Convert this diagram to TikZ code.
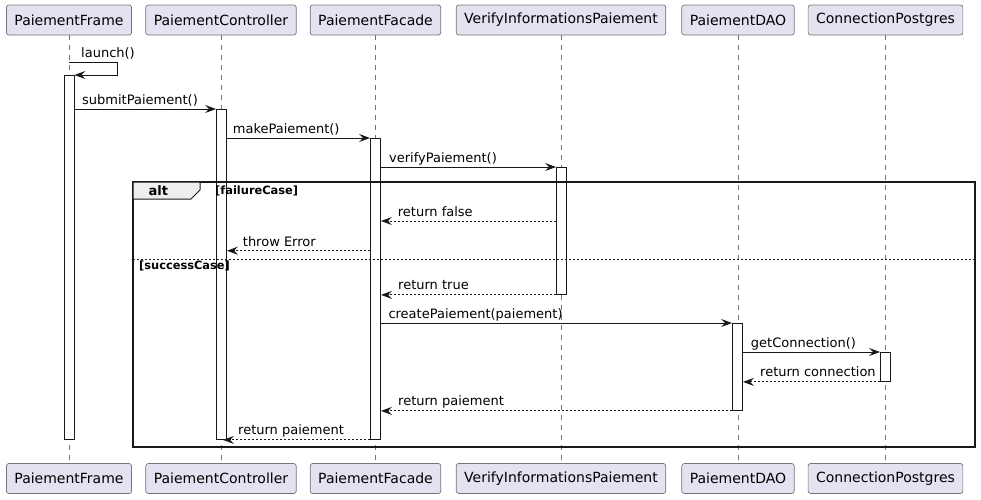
\documentclass[tikz,border=0pt]{standalone}
\usepackage{fontspec}
\setmainfont{DejaVu Sans}
\usepackage{xcolor}
\usepackage{tikz}
\usetikzlibrary{arrows.meta,positioning,calc}
\definecolor{partfill}{HTML}{E2E2F0}
\definecolor{umlline}{HTML}{181818}
\definecolor{tabfill}{HTML}{EEEEEE}

\begin{document}
\begin{tikzpicture}[x=1pt, y=-1pt,
  part/.style={draw=umlline!60, line width=0.7pt, fill=partfill, rounded corners=2.5pt, minimum height=30pt, inner xsep=8pt, font=\fontsize{14}{16}\selectfont},
  life/.style={draw=umlline!60, line width=0.7pt, dash pattern=on 5pt off 5pt},
  act/.style={draw=umlline, fill=white, line width=0.9pt, minimum width=10pt, inner sep=0pt, anchor=north},
  msg/.style={anchor=base west, inner sep=0pt, font=\fontsize{13}{15}\selectfont},
  call/.style={draw=umlline, line width=0.9pt, -{Stealth[length=11pt,width=8pt,inset=4pt]}},
  ret/.style={call, dash pattern=on 2pt off 2pt},
  guard/.style={anchor=west, inner sep=0pt, font=\fontsize{11.4}{13}\selectfont\bfseries}]
\useasboundingbox (0,0) rectangle (981,499);

%participants
\node[part] (pf) at (69,20) {PaiementFrame};
\node[part] (pc) at (221,20) {PaiementController};
\node[part] (pfa) at (375.5,20) {PaiementFacade};
\node[part] (pv) at (561,20) {VerifyInformationsPaiement};
\node[part] (pd) at (738,20) {PaiementDAO};
\node[part] (pg) at (885.5,20) {ConnectionPostgres};

\node[part] (pfB) at (69,478.5) {PaiementFrame};
\node[part] (pcB) at (221,478.5) {PaiementController};
\node[part] (pfaB) at (375.5,478.5) {PaiementFacade};
\node[part] (pvB) at (561,478.5) {VerifyInformationsPaiement};
\node[part] (pdB) at (738,478.5) {PaiementDAO};
\node[part] (pgB) at (885.5,478.5) {ConnectionPostgres};

%lifelines
\draw[life] (pf.south) -- (pfB.north);
\draw[life] (pc.south) -- (pcB.north);
\draw[life] (pfa.south) -- (pfaB.north);
\draw[life] (pv.south) -- (pvB.north);
\draw[life] (pd.south) -- (pdB.north);
\draw[life] (pg.south) -- (pgB.north);

%activations
\node[act, minimum height=364pt] (aPf) at (69,75) {};
\node[act, minimum height=330pt] (aCtrl) at (221.5,109) {};
\node[act, minimum height=301pt] (aFac) at (375.5,138) {};
\node[act, minimum height=127pt] (aVer) at (561.5,167) {};
\node[act, minimum height=87pt] (aDao) at (737.5,323) {};
\node[act, minimum height=29pt] (aPg) at (885.5,352) {};

%alt frame
\draw[umlline, line width=1.5pt] (133,182) rectangle (975,447);
\filldraw[fill=tabfill, draw=umlline, line width=1pt] (133,182) -- (200,182) -- (200,190) -- (191,199) -- (133,199) -- cycle;
\node[guard, font=\fontsize{13}{15}\selectfont\bfseries] (altLbl) at (148.5,190.5) {alt};
\node[guard] (gFail) at (215,190.5) {[failureCase]};
\draw[umlline, line width=0.8pt, dash pattern=on 2pt off 2pt] (133,259.3) -- (975,259.3);
\node[guard] (gOk) at (139,266) {[successCase]};

%rows
\coordinate (rLaunch) at (69,62);
\coordinate (rFalse) at (0,221);
\coordinate (rThrow) at (0,250.7);

%messages
\draw[call] (rLaunch) -- (117,62) -- (117,75) -- (aPf.north east);
\draw[call] (aPf.east |- aCtrl.north) -- (aCtrl.north west);
\draw[call] (aCtrl.east |- aFac.north) -- (aFac.north west);
\draw[call] (aFac.east |- aVer.north) -- (aVer.north west);
\draw[ret] (aVer.west |- rFalse) -- (aFac.east |- rFalse);
\draw[ret] (aFac.west |- rThrow) -- (aCtrl.east |- rThrow);
\draw[ret] (aVer.south west) -- (aFac.east |- aVer.south);
\draw[call] (aFac.east |- aDao.north) -- (aDao.north west);
\draw[call] (aDao.east |- aPg.north) -- (aPg.north west);
\draw[ret] (aPg.south west) -- (aDao.east |- aPg.south);
\draw[ret] (aDao.south west) -- (aFac.east |- aDao.south);
\draw[ret] (aFac.south west) -- ([xshift=1.5pt]aCtrl.south);

%labels
\node[msg] (lLaunch) at (81,57) {launch()};
\node[msg] (lSubmit) at (82,104.5) {submitPaiement()};
\node[msg] (lMake) at (232.7,133.8) {makePaiement()};
\node[msg] (lVerify) at (389,162.8) {verifyPaiement()};
\node[msg] (lFalse) at (397.7,216.5) {return false};
\node[msg] (lThrow) at (242.7,246.2) {throw Error};
\node[msg] (lTrue) at (398,289.5) {return true};
\node[msg] (lCreate) at (388.3,318.8) {createPaiement(paiement)};
\node[msg] (lGetConn) at (750.7,347.8) {getConnection()};
\node[msg] (lRetConn) at (760,376.5) {return connection};
\node[msg] (lRetDao) at (398,405.5) {return paiement};
\node[msg] (lRetFac) at (238,434.5) {return paiement};
\end{tikzpicture}
\end{document}
